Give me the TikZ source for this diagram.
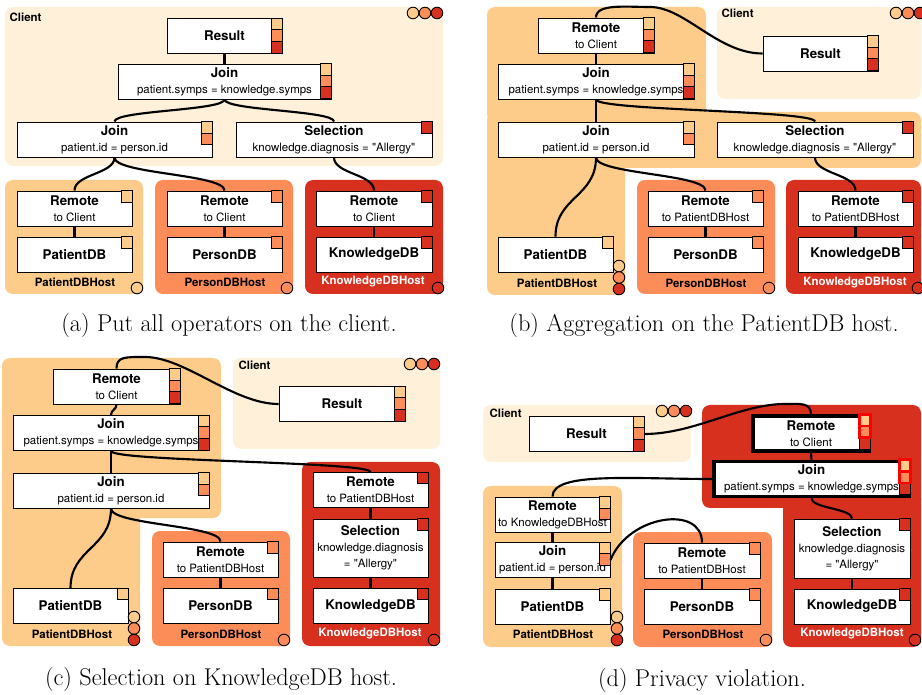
\documentclass[tikz,border=0pt]{standalone}
\usepackage{fontspec}
\newfontfamily\hv{TeX Gyre Heros}
\usetikzlibrary{calc}

\definecolor{clientbg}{HTML}{FEF0D9}
\definecolor{patbg}{HTML}{FDCC8A}
\definecolor{perbg}{HTML}{FC8D59}
\definecolor{knobg}{HTML}{D7301F}

\tikzstyle{op} = [draw, line width=0.7pt, fill=white, inner sep=0pt, align=center, font=\hv\fontsize{8.6}{12}\selectfont]
\tikzstyle{hot} = [op, line width=2.6pt]
\tikzstyle{conn} = [line width=1.6pt]
\tikzstyle{area} = [rounded corners=6pt]
\tikzstyle{sq} = [draw, line width=0.7pt]
\tikzstyle{hostname} = [font=\hv\bfseries\fontsize{8.6}{10}\selectfont]
\tikzstyle{caption} = [font=\fontsize{18.2}{20}\selectfont]
\tikzset{boxwh/.style 2 args={minimum width=#1*0.75pt, minimum height=#2*0.75pt}}

\newcommand{\opname}[1]{{\fontsize{10}{12}\selectfont\bfseries #1}}
% colour squares down the right edge of an operator
\newcommand{\colsq}[3][]{\foreach \clr [count=\i from 0] in {#3}
  \draw[sq,#1,fill=\clr] ($(#2.north east)+(-11.5,11.7*\i)$) rectangle ++(11.5,11.7);}
% parent to child edge
\newcommand{\vlink}[2]{\path (#1.south) -- coordinate[pos=.5] (mid) (#2.north);
  \draw[conn] (#1.south) .. controls (#1.south |- mid) and (#2.north |- mid) .. (#2.north);}

\begin{document}
\begin{tikzpicture}[x=0.75pt, y=-0.75pt]
  \useasboundingbox (0,0) rectangle (922,695);

  % (a)
  \fill[clientbg, area] (5,7) rectangle (443,166);
  \fill[patbg, area] (5,180) rectangle (143,294);
  \fill[perbg, area] (155,180) rectangle (293,294);
  \fill[knobg, area] (305,180) rectangle (443,294);

  \node[hostname, anchor=west] (aCl) at (5,17) {Client};
  \foreach \x/\clr in {413/patbg,425/perbg,437/knobg}
  \draw[sq, fill=\clr] (\x,13) circle (5.8);

  \node[op, boxwh={115}{35}] (aRes) at (224.5,36) {\opname{Result}};
  \node[op, boxwh={213}{35}] (aJn) at (224.5,81.5) {\opname{Join}\\patient.symps = knowledge.symps};
  \node[op, boxwh={195}{35}] (aJnB) at (114.5,139.5) {\opname{Join}\\patient.id = person.id};
  \node[op, boxwh={196}{35}] (aSel) at (334,139.5) {\opname{Selection}\\knowledge.diagnosis = "Allergy"};
  \node[op, boxwh={115}{35}] (aRemA) at (74.5,208.5) {\opname{Remote}\\to Client};
  \node[op, boxwh={115}{35}] (aPat) at (74.5,254.5) {\opname{PatientDB}};
  \node[op, boxwh={115}{35}] (aRemB) at (224.5,208.5) {\opname{Remote}\\to Client};
  \node[op, boxwh={115}{35}] (aPer) at (224.5,254.5) {\opname{PersonDB}};
  \node[op, boxwh={116}{35}] (aRemC) at (374,208.5) {\opname{Remote}\\to Client};
  \node[op, boxwh={116}{35}] (aKno) at (374,254.5) {\opname{KnowledgeDB}};

  \colsq{aRes}{patbg,perbg,knobg}
  \colsq{aJn}{patbg,perbg,knobg}
  \colsq{aJnB}{patbg,perbg}
  \colsq{aSel}{knobg}
  \colsq{aRemA}{patbg}
  \colsq{aPat}{patbg}
  \colsq{aRemB}{perbg}
  \colsq{aPer}{perbg}
  \colsq{aRemC}{knobg}
  \colsq{aKno}{knobg}

  \node[hostname] (aPatH) at (75,282) {PatientDBHost};
  \node[hostname] (aPerH) at (225,282) {PersonDBHost};
  \node[hostname, white] (aKnoH) at (373,282) {KnowledgeDBHost};
  \draw[sq, fill=patbg] (137,288) circle (5.8);
  \draw[sq, fill=perbg] (287,288) circle (5.8);
  \draw[sq, fill=knobg] (438,288) circle (5.8);

  \vlink{aRes}{aJn}
  \vlink{aJn}{aJnB}
  \vlink{aJn}{aSel}
  \vlink{aJnB}{aRemA}
  \vlink{aJnB}{aRemB}
  \vlink{aSel}{aRemC}
  \vlink{aRemA}{aPat}
  \vlink{aRemB}{aPer}
  \vlink{aRemC}{aKno}

  \node[caption] (capA) at (229,325) {(a) Put all operators on the client.};

  % (b)
  \fill[patbg, area] (487,7) rectangle (706,122);
  \fill[patbg, area] (487,112) rectangle (921,168);
  \fill[patbg, area] (487,150) rectangle (625,295);
  \fill[clientbg, area] (717,7) rectangle (921,99);
  \fill[perbg, area] (637,180) rectangle (775,294);
  \fill[knobg, area] (786,180) rectangle (921,294);

  \node[hostname, anchor=west] (bCl) at (717,13) {Client};
  \foreach \x/\clr in {896/patbg,908/perbg,920/knobg}
  \draw[sq, fill=\clr] (\x,13) circle (5.8);

  \node[op, boxwh={116}{35}] (bRem) at (596,35.5) {\opname{Remote}\\to Client};
  \node[op, boxwh={115}{35}] (bRes) at (820.5,53.5) {\opname{Result}};
  \node[op, boxwh={196}{35}] (bJn) at (596,81.5) {\opname{Join}\\patient.symps = knowledge.symps};
  \node[op, boxwh={196}{35}] (bJnB) at (596,139.5) {\opname{Join}\\patient.id = person.id};
  \node[op, boxwh={196}{35}] (bSel) at (815,139.5) {\opname{Selection}\\knowledge.diagnosis = "Allergy"};
  \node[op, boxwh={115}{35}] (bPat) at (555.5,254.5) {\opname{PatientDB}};
  \node[op, boxwh={115}{35}] (bRemB) at (705.5,208.5) {\opname{Remote}\\to PatientDBHost};
  \node[op, boxwh={115}{35}] (bPer) at (705.5,254.5) {\opname{PersonDB}};
  \node[op, boxwh={115}{35}] (bRemC) at (855.5,208.5) {\opname{Remote}\\to PatientDBHost};
  \node[op, boxwh={115}{35}] (bKno) at (855.5,254.5) {\opname{KnowledgeDB}};

  \colsq{bRem}{patbg,perbg,knobg}
  \colsq{bRes}{patbg,perbg,knobg}
  \colsq{bJn}{patbg,perbg,knobg}
  \colsq{bJnB}{patbg,perbg}
  \colsq{bSel}{knobg}
  \colsq{bPat}{patbg}
  \colsq{bRemB}{perbg}
  \colsq{bPer}{perbg}
  \colsq{bRemC}{knobg}
  \colsq{bKno}{knobg}

  \node[hostname] (bPatH) at (557,283) {PatientDBHost};
  \node[hostname] (bPerH) at (706,283) {PersonDBHost};
  \node[hostname, white] (bKnoH) at (855,283) {KnowledgeDBHost};
  \foreach \y/\clr in {266/patbg,277.5/perbg,289/knobg}
  \draw[sq, fill=\clr] (619,\y) circle (5.8);
  \draw[sq, fill=perbg] (769,288) circle (5.8);
  \draw[sq, fill=knobg] (918,288) circle (5.8);

  \draw[conn] (bRem.north) .. controls +(0,-14) and +(-25,0) .. (650,7)
    .. controls +(35,0) and +(-45,0) .. (bRes.west);
  \vlink{bRem}{bJn}
  \vlink{bJn}{bJnB}
  \vlink{bJn}{bSel}
  \vlink{bJnB}{bPat}
  \vlink{bJnB}{bRemB}
  \vlink{bSel}{bRemC}
  \vlink{bRemB}{bPer}
  \vlink{bRemC}{bKno}

  \node[caption] (capB) at (704,325) {(b) Aggregation on the PatientDB host.};

  % (c)
  \fill[patbg, area] (2,358) rectangle (221,518);
  \fill[patbg, area] (2,500) rectangle (140,646);
  \fill[clientbg, area] (233,358) rectangle (440,449);
  \fill[perbg, area] (152,531) rectangle (290,646);
  \fill[knobg, area] (302,462) rectangle (440,646);

  \node[hostname, anchor=west] (cCl) at (234,365) {Client};
  \foreach \x/\clr in {410/patbg,422/perbg,434/knobg}
  \draw[sq, fill=\clr] (\x,364) circle (5.8);

  \node[op, boxwh={127}{35}] (cRem) at (116.5,386.5) {\opname{Remote}\\to Client};
  \node[op, boxwh={126}{35}] (cRes) at (342,404) {\opname{Result}};
  \node[op, boxwh={196}{35}] (cJn) at (111,433) {\opname{Join}\\patient.symps = knowledge.symps};
  \node[op, boxwh={196}{35}] (cJnB) at (111,490.5) {\opname{Join}\\patient.id = person.id};
  \node[op, boxwh={115}{35}] (cRemC) at (370.5,490) {\opname{Remote}\\to PatientDBHost};
  \node[op, boxwh={115}{58}] (cSel) at (370.5,548) {\opname{Selection}\\knowledge.diagnosis\\= "Allergy"};
  \node[op, boxwh={115}{35}] (cKno) at (370.5,606) {\opname{KnowledgeDB}};
  \node[op, boxwh={115}{35}] (cPat) at (70.5,606) {\opname{PatientDB}};
  \node[op, boxwh={115}{35}] (cRemB) at (220.5,559.5) {\opname{Remote}\\to PatientDBHost};
  \node[op, boxwh={115}{35}] (cPer) at (220.5,606) {\opname{PersonDB}};

  \colsq{cRem}{patbg,perbg,knobg}
  \colsq{cRes}{patbg,perbg,knobg}
  \colsq{cJn}{patbg,perbg,knobg}
  \colsq{cJnB}{patbg,perbg}
  \colsq{cRemC}{knobg}
  \colsq{cSel}{knobg}
  \colsq{cKno}{knobg}
  \colsq{cPat}{patbg}
  \colsq{cRemB}{perbg}
  \colsq{cPer}{perbg}

  \node[hostname] (cPatH) at (72,634) {PatientDBHost};
  \node[hostname] (cPerH) at (221,634) {PersonDBHost};
  \node[hostname, white] (cKnoH) at (370,634) {KnowledgeDBHost};
  \foreach \y/\clr in {617/patbg,628.5/perbg,640/knobg}
  \draw[sq, fill=\clr] (134,\y) circle (5.8);
  \draw[sq, fill=perbg] (284,640) circle (5.8);
  \draw[sq, fill=knobg] (434,640) circle (5.8);

  \draw[conn] (cRem.north) .. controls +(0,-12) and +(-20,0) .. (145,357)
    .. controls +(40,0) and +(-45,0) .. (cRes.west);
  \vlink{cRem}{cJn}
  \vlink{cJn}{cJnB}
  \vlink{cJn}{cRemC}
  \vlink{cJnB}{cPat}
  \vlink{cJnB}{cRemB}
  \vlink{cRemC}{cSel}
  \vlink{cSel}{cKno}
  \vlink{cRemB}{cPer}

  \node[caption] (capC) at (221,679) {(c) Selection on KnowledgeDB host.};

  % (d)
  \fill[clientbg, area] (483,405) rectangle (691,462);
  \fill[knobg, area] (702,405) rectangle (921,508);
  \fill[knobg, area] (783,490) rectangle (921,647);
  \fill[patbg, area] (483,486) rectangle (622,647);
  \fill[perbg, area] (633,532) rectangle (772,647);

  \node[hostname, anchor=west] (dCl) at (485,413) {Client};
  \foreach \x/\clr in {662/patbg,674/perbg,686/knobg}
  \draw[sq, fill=\clr] (\x,411) circle (5.8);

  \node[op, boxwh={115}{35}] (dRes) at (586.5,434) {\opname{Result}};
  \node[hot, boxwh={116}{35}] (dRem) at (811,433.5) {\opname{Remote}\\to Client};
  \node[hot, boxwh={195}{35}] (dJn) at (811.5,479) {\opname{Join}\\patient.symps = knowledge.symps};
  \node[op, boxwh={115}{35}] (dRemA) at (552.5,514.5) {\opname{Remote}\\to KnowledgeDBHost};
  \node[op, boxwh={115}{35}] (dJnB) at (552.5,560) {\opname{Join}\\patient.id = person.id};
  \node[op, boxwh={115}{35}] (dPat) at (552.5,606.5) {\opname{PatientDB}};
  \node[op, boxwh={116}{35}] (dRemB) at (702,560.5) {\opname{Remote}\\to PatientDBHost};
  \node[op, boxwh={116}{35}] (dPer) at (702,606.5) {\opname{PersonDB}};
  \node[op, boxwh={116}{59}] (dSel) at (852,548.5) {\opname{Selection}\\knowledge.diagnosis\\= "Allergy"};
  \node[op, boxwh={116}{35}] (dKno) at (852,606.5) {\opname{KnowledgeDB}};

  \colsq{dRes}{patbg,perbg,knobg}
  \colsq{dRem}{patbg,perbg,knobg}
  \colsq[draw=red, line width=2pt]{dRem}{patbg,perbg}
  \colsq{dJn}{patbg,perbg,knobg}
  \colsq[draw=red, line width=2pt]{dJn}{patbg,perbg}
  \colsq{dRemA}{patbg,perbg}
  \colsq{dJnB}{patbg,perbg}
  \colsq{dPat}{patbg}
  \colsq{dRemB}{perbg}
  \colsq{dPer}{perbg}
  \colsq{dSel}{knobg}
  \colsq{dKno}{knobg}

  \node[hostname] (dPatH) at (553,634) {PatientDBHost};
  \node[hostname] (dPerH) at (703,634) {PersonDBHost};
  \node[hostname, white] (dKnoH) at (852,634) {KnowledgeDBHost};
  \foreach \y/\clr in {617/patbg,628.5/perbg,640/knobg}
  \draw[sq, fill=\clr] (617,\y) circle (5.8);
  \draw[sq, fill=perbg] (766,640) circle (5.8);
  \draw[sq, fill=knobg] (915,640) circle (5.8);

  \draw[conn] (dRem.north) .. controls +(0,-12) and +(15,0) .. (785,404)
    .. controls +(-45,0) and +(50,0) .. (dRes.east);
  \draw[conn] (dJn.west) .. controls +(-80,0) and +(0,-25) .. (dRemA.north);
  \draw[conn] (dJnB.east) .. controls +(18,-45) and +(0,-38) .. (dRemB.north);
  \vlink{dRem}{dJn}
  \vlink{dJn}{dSel}
  \vlink{dSel}{dKno}
  \vlink{dRemA}{dJnB}
  \vlink{dJnB}{dPat}
  \vlink{dRemB}{dPer}

  \node[caption] (capD) at (702,680) {(d) Privacy violation.};
\end{tikzpicture}
\end{document}
